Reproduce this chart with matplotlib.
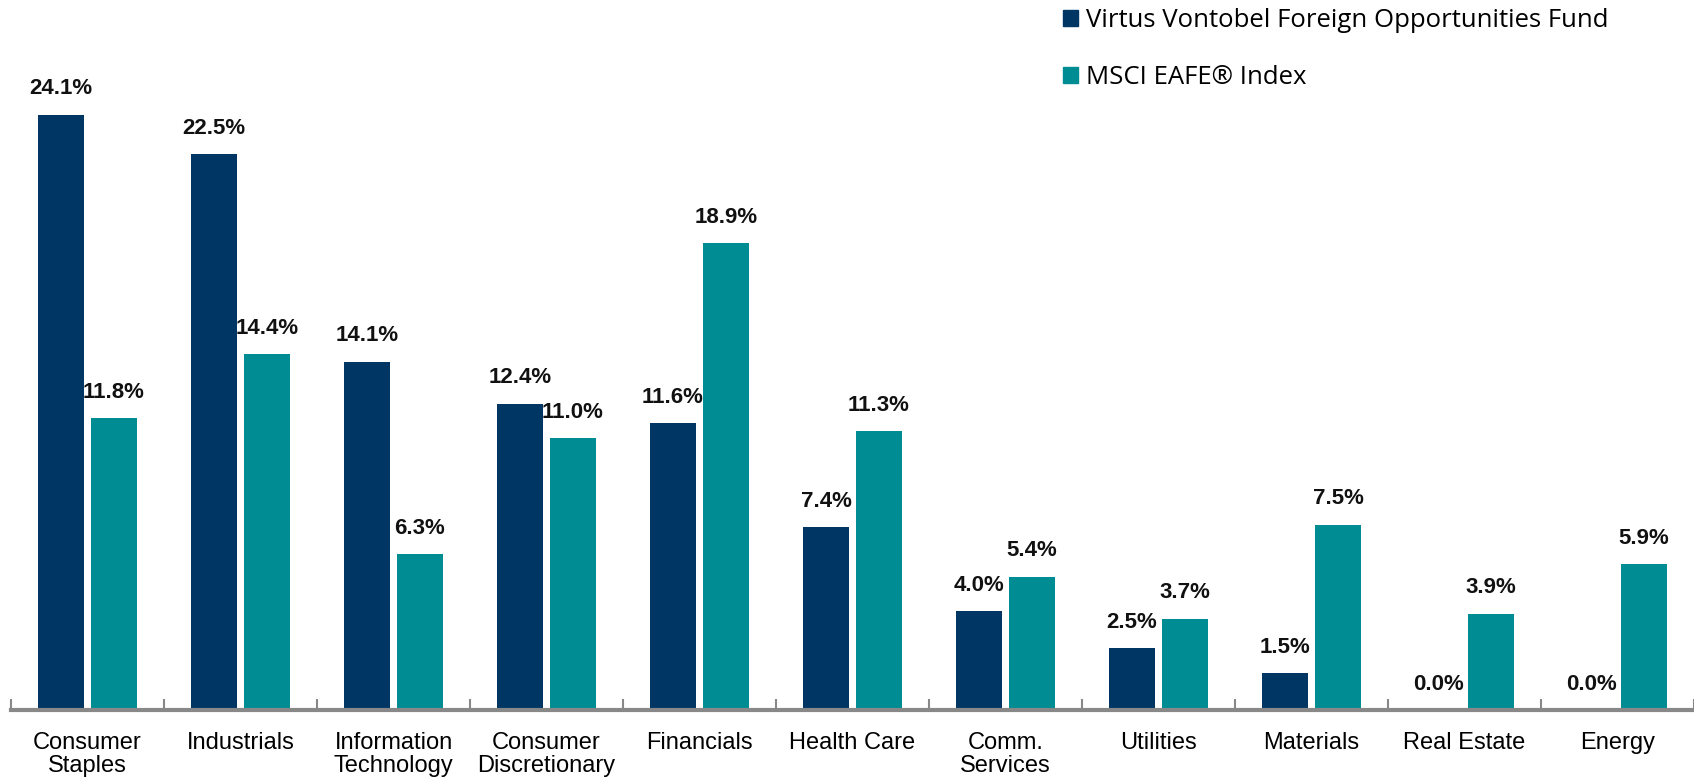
import numpy as np
import matplotlib
matplotlib.use("Agg")
import matplotlib.pyplot as plt
from matplotlib.patches import Patch

categories = ["Consumer\nStaples", "Industrials", "Information\nTechnology", "Consumer\nDiscretionary",
              "Financials", "Health Care", "Comm.\nServices", "Utilities", "Materials",
              "Real Estate", "Energy"]
fund = [24.1, 22.5, 14.1, 12.4, 11.6, 7.4, 4.0, 2.5, 1.5, 0.0, 0.0]
index = [11.8, 14.4, 6.3, 11.0, 18.9, 11.3, 5.4, 3.7, 7.5, 3.9, 5.9]
series_names = ["Virtus Vontobel Foreign Opportunities Fund", "MSCI EAFE\u00ae Index"]

NAVY = "#003663"
TEAL = "#008C93"
LABEL_FONT = ["Liberation Sans", "DejaVu Sans"]

fig = plt.figure(figsize=(16.94, 7.8), dpi=100)
ax = fig.add_axes([11 / 1694, 70 / 780, 1683 / 1694, 710 / 780])

x = np.arange(len(categories))
w = 0.305
off = 0.173
b1 = ax.bar(x - off, fund, w, color=NAVY)
b2 = ax.bar(x + off, index, w, color=TEAL)

for bars, vals in ((b1, fund), (b2, index)):
    for r, v in zip(bars, vals):
        ax.annotate(f"{v:.1f}%", (r.get_x() + r.get_width() / 2, v), xytext=(0, 11),
                    textcoords="offset points", ha="center", va="bottom",
                    fontsize=16, fontweight="bold", family=LABEL_FONT, color="#111")

ax.set_xlim(-0.5, 10.48)
ax.set_ylim(0, 28.74)
ax.set_xticks(x)
ax.set_xticklabels(categories, fontsize=17, family=LABEL_FONT, linespacing=1.05, va="top")
ax.tick_params(axis="x", which="major", length=0, pad=16)
ax.set_xticks(np.arange(len(categories) + 1) - 0.5, minor=True)
ax.tick_params(axis="x", which="minor", direction="in", length=8, width=1.5, color="#888888")
ax.set_yticks([])
for s in ("top", "right", "left"):
    ax.spines[s].set_visible(False)
ax.spines["bottom"].set_color("#888888")
ax.spines["bottom"].set_linewidth(3)

handles = [Patch(color=NAVY), Patch(color=TEAL)]
fig.legend(handles, series_names, loc="upper left", bbox_to_anchor=(1063 / 1694, 1 - 8 / 780),
           frameon=False, prop={"family": ["Open Sans", "DejaVu Sans"], "size": 18.5},
           handlelength=0.6, handleheight=0.6, handletextpad=0.3, labelspacing=1.25,
           borderaxespad=0.0, borderpad=0.0)

fig.savefig("out.png", dpi=100)
